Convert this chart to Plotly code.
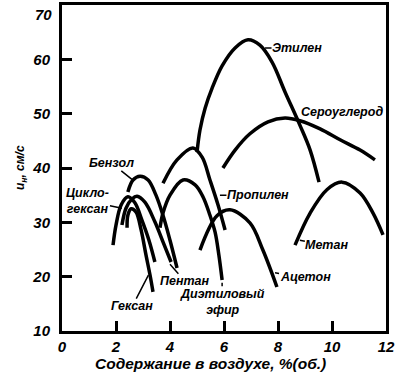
import plotly.graph_objects as go

# ---- data ----
ethylene_x = [5.0, 5.11, 5.30, 5.56, 5.93, 6.41, 6.89, 7.33, 7.78, 8.26, 8.81, 9.19, 9.52]
ethylene_y = [42.9, 47.0, 51.0, 54.7, 58.8, 62.1, 63.6, 62.6, 59.5, 54.0, 47.9, 43.3, 37.4]

cs2_x = [5.96, 6.41, 6.96, 7.63, 8.26, 8.81, 9.56, 10.30, 11.04, 11.59]
cs2_y = [40.0, 43.3, 46.3, 48.5, 49.2, 48.7, 47.2, 45.2, 43.3, 41.5]

methane_x = [8.63, 9.19, 9.81, 10.37, 11.04, 11.52, 11.89]
methane_y = [25.8, 31.7, 36.0, 37.4, 35.4, 31.7, 27.7]

acetone_x = [5.11, 5.74, 6.22, 6.96, 7.44, 7.96]
acetone_y = [24.9, 31.2, 32.3, 29.9, 24.9, 18.1]

propylene_x = [3.74, 4.26, 4.85, 5.19, 5.48, 5.78, 6.04]
propylene_y = [37.2, 41.5, 43.7, 42.0, 37.8, 33.2, 28.6]

ether_x = [3.63, 3.74, 4.0, 4.48, 4.93, 5.22, 5.48, 5.67, 5.81, 5.93]
ether_y = [29.0, 31.7, 35.0, 37.8, 36.9, 34.7, 31.3, 28.2, 24.0, 19.4]

benzene_x = [2.44, 2.63, 2.89, 3.19, 3.48, 3.74, 4.0, 4.26]
benzene_y = [35.6, 37.8, 38.5, 37.8, 35.0, 31.3, 26.7, 21.6]

cyclohexane_x = [1.89, 2.0, 2.19, 2.44, 2.70, 2.96, 3.22, 3.44]
cyclohexane_y = [25.8, 29.5, 33.2, 34.7, 33.6, 30.4, 26.7, 22.7]

pentane_x = [2.22, 2.37, 2.59, 2.78, 3.07, 3.44, 3.74, 4.04]
pentane_y = [29.5, 32.6, 34.3, 34.8, 33.7, 30.1, 26.4, 22.7]

hexane_x = [2.41, 2.44, 2.56, 2.74, 2.93, 3.11, 3.26, 3.37]
hexane_y = [29.0, 31.3, 32.5, 31.9, 28.6, 24.0, 20.3, 17.2]

x_ticks = [0, 2, 4, 6, 8, 10, 12]
y_ticks = [10, 20, 30, 40, 50, 60, 70]
y_top_label = "70"

x_title = "Содержание в воздухе, %(об.)"
y_title = "u<sub>н</sub>, см/с"

# label: (text, point x, point y, ax, ay, show pointer)
labels = [
    ("Этилен", 7.52, 62.1, 32, 0, True),
    ("Сероуглерод", 10.37, 50.3, 0, 0, False),
    ("Пропилен", 5.85, 35.0, 38, 0, True),
    ("Метан", 8.81, 26.7, 27, 5, True),
    ("Ацетон", 7.89, 20.7, 30, 4, True),
    ("Диэтиловый<br>эфир", 5.93, 18.9, 0, 19, True),
    ("Пентан", 4.0, 22.3, 15, 17, True),
    ("Гексан", 3.2, 20.3, -16, 31, True),
    ("Бензол", 2.59, 37.9, -20, -16, True),
    ("Цикло-<br>гексан", 2.22, 32.6, -34, -7, True),
]

series = [
    (ethylene_x, ethylene_y), (cs2_x, cs2_y), (methane_x, methane_y),
    (acetone_x, acetone_y), (propylene_x, propylene_y), (ether_x, ether_y),
    (benzene_x, benzene_y), (cyclohexane_x, cyclohexane_y),
    (pentane_x, pentane_y), (hexane_x, hexane_y),
]

FONT = "Liberation Sans"

def bold_italic(size):
    return dict(family=FONT, size=size, color="black", weight="bold", style="italic")

fig = go.Figure()
for xs, ys in series:
    fig.add_trace(go.Scatter(
        x=xs, y=ys, mode="lines",
        line=dict(color="black", width=3.5, shape="spline", smoothing=1.0),
        showlegend=False, hoverinfo="skip",
    ))

for text, px, py, ax, ay, arrow in labels:
    fig.add_annotation(
        x=px, y=py, xref="x", yref="y",
        text=text, showarrow=arrow, arrowhead=0, arrowwidth=1.5, arrowcolor="black",
        ax=ax, ay=ay, axref="pixel", ayref="pixel",
        font=bold_italic(12.5), align="center", borderpad=0,
    )

fig.add_annotation(
    x=(210 - 62) / 324, y=0, xref="paper", yref="paper", yshift=-32,
    text=x_title, showarrow=False, yanchor="middle", font=bold_italic(15.5),
)
fig.add_annotation(
    x=0, y=(331 - 168) / 326, xref="paper", yref="paper", xshift=-41,
    text=y_title, showarrow=False, textangle=-90, xanchor="center", font=bold_italic(12),
)
# top y tick label, placed just below the frame corner as in the original
fig.add_annotation(
    x=0, y=1, xref="paper", yref="paper", xshift=-8, yshift=1,
    text=y_top_label, showarrow=False, xanchor="right", yanchor="top", font=bold_italic(15),
)

axis_common = dict(
    showgrid=False, zeroline=False, showline=True, linecolor="black", linewidth=3,
    mirror=True, ticks="inside", ticklen=10, tickwidth=2.5, tickcolor="black",
    automargin=False, ticklabeloverflow="allow", tickfont=bold_italic(15),
)

fig.update_xaxes(range=[0, 12], tickvals=x_ticks, ticktext=[str(v) for v in x_ticks],
                 ticklabelstandoff=0, **axis_common)
fig.update_yaxes(range=[10, 70], tickvals=y_ticks,
                 ticktext=["" if str(v) == y_top_label else str(v) for v in y_ticks],
                 ticklabelstandoff=6, **axis_common)

fig.update_layout(
    width=402, height=374,
    margin=dict(l=62, r=16, t=5, b=43),
    plot_bgcolor="white", paper_bgcolor="white",
)

fig.write_html("out.html", config={"displayModeBar": False},
               post_script="document.body.style.margin='0px';")
